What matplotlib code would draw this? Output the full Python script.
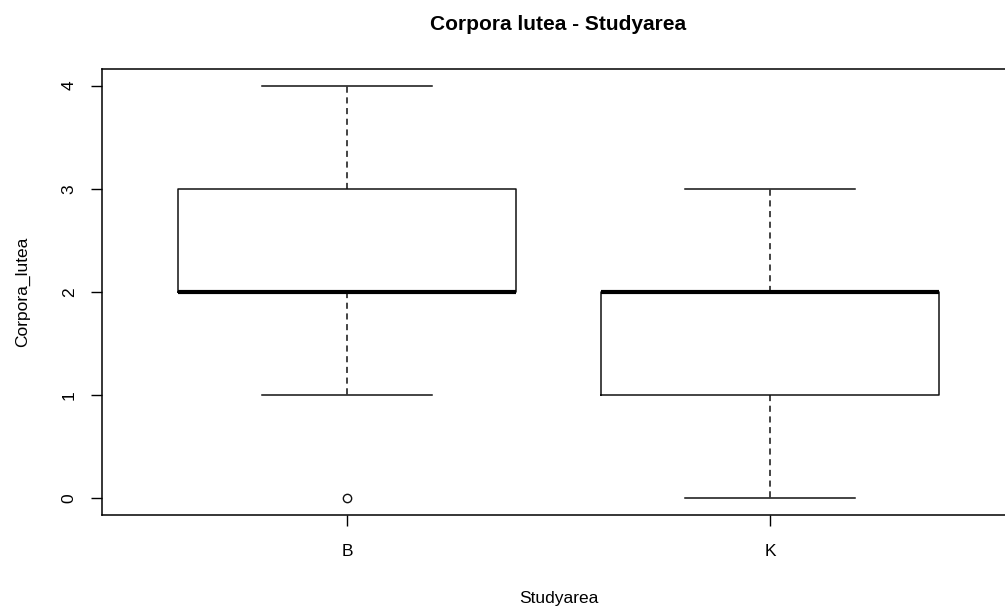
import matplotlib.pyplot as plt

plt.rcParams['font.family'] = ['Liberation Sans', 'DejaVu Sans']

# box statistics
areas = ['B', 'K']
whislo = [1, 0]
q1 = [2, 1]
med = [2, 2]
q3 = [3, 2]
whishi = [4, 3]
fliers = [[0], []]

stats = []
for i in range(len(areas)):
    stats.append(dict(label=areas[i], whislo=whislo[i], q1=q1[i], med=med[i],
                      q3=q3[i], whishi=whishi[i], fliers=fliers[i]))

fig = plt.figure(figsize=(10.05, 6.09), dpi=100)
ax = fig.add_axes([0.1012, 0.1544, 0.909, 0.7323])

ax.bxp(stats, positions=[1, 2], widths=0.8, capwidths=0.4,
       boxprops=dict(color='#111111', linewidth=1.1),
       medianprops=dict(color='black', linewidth=3),
       whiskerprops=dict(color='#111111', linewidth=1.1, linestyle=(0, (4, 3))),
       capprops=dict(color='#111111', linewidth=1.1),
       flierprops=dict(marker='o', markerfacecolor='none', markeredgecolor='#111111',
                       markersize=6, markeredgewidth=1))

ax.set_xlim(0.42, 2.58)
ax.set_ylim(-0.16, 4.16)
ax.set_yticks([0, 1, 2, 3, 4])
ax.set_yticklabels(['0', '1', '2', '3', '4'], rotation=90, va='center')
ax.tick_params(axis='both', length=8, width=1, labelsize=12.5)
ax.tick_params(axis='x', pad=13)
ax.tick_params(axis='y', pad=10)
for s in ax.spines.values():
    s.set_linewidth(1.1)

ax.set_xlabel('Studyarea', fontsize=12.5, labelpad=23)
ax.set_ylabel('Corpora_lutea', fontsize=12.5, labelpad=23)
fig.suptitle('Corpora lutea - Studyarea', fontsize=15, fontweight='bold',
             x=0.555, y=0.975)

fig.savefig('out.png', dpi=100)
